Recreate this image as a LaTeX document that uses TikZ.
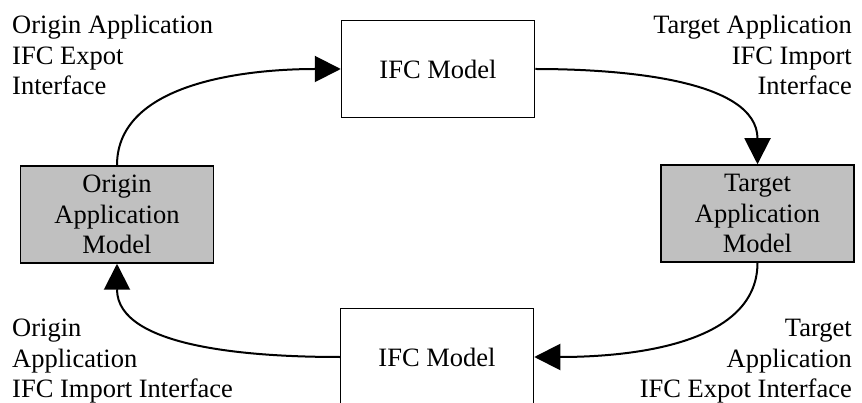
\documentclass[tikz,border=0pt]{standalone}
\usepackage{fontspec}
\setmainfont{Liberation Serif}
\usetikzlibrary{arrows.meta}
\definecolor{boxgray}{HTML}{C0C0C0}
\tikzset{
  modelbox/.style={draw, line width=1.5pt, minimum width=193pt, minimum height=97pt, inner sep=0pt, align=center},
  appbox/.style={modelbox, fill=boxgray},
  flow/.style={line width=2pt, -{Triangle[length=26pt, width=26pt]}},
  note/.style={inner sep=0pt}
}
\begin{document}
\begin{tikzpicture}[x=1pt, y=-1pt]
			%%%%% START %%%%%
			\fontsize{26.5}{30.5}\selectfont
			\useasboundingbox (0, 0) rectangle (862, 403);
			
			\node[modelbox] (ifctop) at (438, 69) {IFC Model};
			\node[modelbox] (ifcbot) at (437, 357) {IFC Model};
			\node[appbox] (origin) at (117, 214.5) {Origin\\Application\\Model};
			\node[appbox] (target) at (757.5, 213.5) {Target\\Application\\Model};
			
			\node[note, anchor=north west, align=left] (orgexp) at (12, 15) {Origin Application\\IFC Expot\\Interface};
			\node[note, anchor=north east, align=right] (tgtimp) at (852, 15) {Target Application\\IFC Import\\Interface};
			\node[note, anchor=north west, align=left] (orgimp) at (12, 319) {Origin\\Application\\IFC Import Interface};
			\node[note, anchor=north east, align=right] (tgtexp) at (852, 319) {Target\\Application\\IFC Expot Interface};
			
			\draw[flow] (origin.north) to[out=90, in=180, looseness=0.9] (ifctop.west);
			\draw[flow] (ifctop.east) to[out=0, in=90, looseness=0.9] (target.north);
			\draw[flow] (target.south) to[out=-90, in=0, looseness=0.9] (ifcbot.east);
			\draw[flow] (ifcbot.west) to[out=180, in=-90, looseness=0.9] (origin.south);
			
			%%%%% END %%%%%
\end{tikzpicture}
\end{document}
